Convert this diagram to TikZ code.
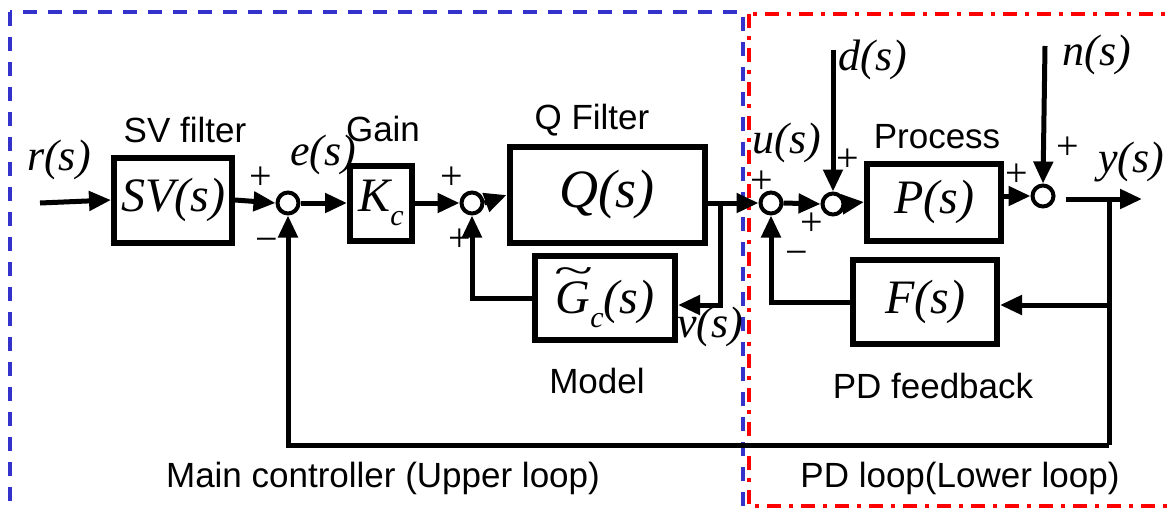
\documentclass[tikz,border=0pt]{standalone}
\usepackage{graphicx}
\usepackage{fontspec}
\setmainfont{Liberation Serif}
\newfontfamily\arialfont{Liberation Sans}
\usetikzlibrary{arrows.meta, positioning, calc}
\definecolor{loopblue}{HTML}{3333CC}
\definecolor{loopred}{HTML}{FF0000}
\newcommand{\subc}{\raisebox{-0.3em}{\fontsize{30}{30}\selectfont\itshape c}}
\newcommand{\tildeG}{{\setbox0\hbox{G}\rlap{\hbox to \wd0{\hss\raisebox{0.62em}{\scalebox{1.5}[0.8]{\char"007E}}\hss}}G}}

\begin{document}
\begin{tikzpicture}[
    x=1pt, y=-1pt,
    blk/.style={draw, line width=6pt, inner sep=0pt, font=\fontsize{48}{48}\selectfont\itshape},
    sumpt/.style={circle, draw, line width=4pt, minimum size=21pt, inner sep=0pt},
    sig/.style={font=\fontsize{44}{44}\selectfont\itshape, inner sep=0pt},
    lbl/.style={font=\arialfont\fontsize{35}{35}\selectfont, inner sep=0pt},
    pm/.style={font=\fontsize{40}{40}\selectfont, inner sep=0pt},
    wire/.style={line width=5pt, -{Triangle[length=22pt,width=19pt]}},
    conn/.style={line width=5pt}
]
\useasboundingbox (0,0) rectangle (1167,509);
\clip (0,0) rectangle (1167,509);

% loop frames
\draw[loopblue, line width=3.5pt, dash pattern=on 14pt off 11pt] (10,12) rectangle (743,530);
\draw[loopred, line width=3.5pt, dash pattern=on 14pt off 8pt on 4pt off 8pt] (749,14) rectangle (1190,506);

% blocks
\node[blk, minimum width=118pt, minimum height=85pt] (sv) at (173,200) {SV(s)};
\node[blk, minimum width=62pt,  minimum height=75pt] (kc) at (381,203) {K\subc};
\node[blk, minimum width=195pt, minimum height=96pt, font=\fontsize{54}{54}\selectfont\itshape] (q) at (607,195) {Q(s)};
\node[blk, minimum width=140pt, minimum height=84pt] (gc) at (605,298) {\tildeG\subc(s)};
\node[blk, minimum width=134pt, minimum height=77pt] (p) at (934,202) {P(s)};
\node[blk, minimum width=144pt, minimum height=84pt] (f) at (925,302) {F(s)};

% summing points
\node[sumpt] (s1) at (288,203) {};
\node[sumpt] (s2) at (472,203) {};
\node[sumpt] (s3) at (771,203) {};
\node[sumpt] (s4) at (833,204) {};
\node[sumpt] (s5) at (1043,196) {};

% free ends and branch points
\coordinate (rin) at (40,203);
\coordinate (din) at (833,50);
\coordinate (nin) at (1045,46);
\coordinate (yout) at (1142,199);
\coordinate (qb) at (720,203);
\coordinate (yb) at (1109,199);
\coordinate (low) at (1109,445);

% forward path
\draw[wire] (rin) -- (sv.west);
\draw[wire] (sv.east) -- (s1.west);
\draw[wire] (s1.east) -- (kc.west);
\draw[wire] (kc.east) -- (s2.west);
\draw[wire] (s2.east) -- (q.west);
\draw[wire] (q.east |- s3) -- (s3.west);
\draw[wire] (s3.east) -- (s4.west);
\draw[wire] (din) -- (s4.north);
\draw[wire] (s4.east) -- (p.west);
\draw[wire] (p.east |- s5) -- (s5.west);
\draw[wire] (nin) -- (s5.north);
\draw[wire] ($(s5.east)+(10,3)$) -- (yout);

% model loop
\draw[wire] (qb) |- ($(gc.east)+(0,7)$);
\draw[wire] (gc.west) -| (s2.south);

% PD loop and main loop
\draw[wire] (yb) |- ($(f.east)+(0,3)$);
\draw[wire] (f.west) -| (s3.south);
\draw[conn] (yb) -- (low);
\draw[wire] (low) -| (s1.south);

% signals
\node[sig] (r) at (59,160) {r(s)};
\node[sig] (e) at (323,155) {e(s)};
\node[sig] (u) at (787,143) {u(s)};
\node[sig] (d) at (873,60) {d(s)};
\node[sig] (n) at (1097,55) {n(s)};
\node[sig] (y) at (1131,162) {y(s)};
\node[sig] (v) at (710,327) {v(s)};

% signs
\node[pm] at (261,178) {+};
\node[pm] at (267,245) {\textminus};
\node[pm] at (452,178) {+};
\node[pm] at (460,240) {+};
\node[pm] at (762,182) {+};
\node[pm] at (848,160) {+};
\node[pm] at (812,224) {+};
\node[pm] at (797,258) {\textminus};
\node[pm] at (1017,175) {+};
\node[pm] at (1068,148) {+};

% captions
\node[lbl] (svcap) at (185,130) {SV filter};
\node[lbl] (kccap) at (383,129) {Gain};
\node[lbl] (qcap) at (592,120) {Q Filter};
\node[lbl] (gccap) at (597,381) {Model};
\node[lbl] (pcap) at (937,137) {Process};
\node[lbl] (fcap) at (933,386) {PD feedback};
\node[lbl] (main) at (383,478) {Main controller (Upper loop)};
\node[lbl] (pdl) at (960,478) {PD loop(Lower loop)};
\end{tikzpicture}
\end{document}
